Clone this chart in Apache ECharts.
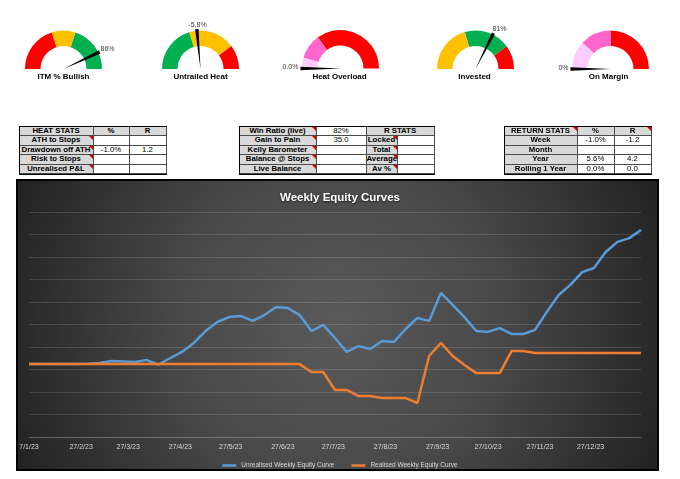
<!DOCTYPE html>
<html>
<head>
<meta charset="utf-8">
<script src="https://cdn.jsdelivr.net/npm/echarts@6/dist/echarts.min.js"></script>
<style>
  html, body { margin: 0; padding: 0; background: #fff; }
  #wrap { position: relative; width: 680px; height: 479px; overflow: hidden; }
  #chart { position: absolute; left: 0; top: 0; width: 680px; height: 479px; }
  .tbl { position: absolute; box-sizing: content-box; border: 1.5px solid #000; background: #fff; }
  .cell { position: absolute; box-sizing: border-box; border-right: 1px solid #4a4a4a; border-bottom: 1px solid #4a4a4a;
          font-family: "Liberation Sans", Arial, sans-serif; font-size: 7.8px; color: #000; text-align: center;
          white-space: nowrap; overflow: visible; }
  .lab { background: #d9d9d9; font-weight: bold; }
  .tri { position: absolute; right: 0; top: 0; width: 0; height: 0; border-top: 4px solid #e00000; border-left: 4px solid transparent; }
</style>
</head>
<body>
<div id="wrap">
  <div id="chart"></div>
</div>
<script>
// ---------- Gauges ----------
const gaugeNames  = ['ITM % Bullish', 'Untrailed Heat', 'Heat Overload', 'Invested', 'On Margin'];
const gaugeValues = [86, -5.8, 0.0, 81, 0];
const gaugeDecimals = [0, 1, 1, 0, 0];
const gaugeMin = [0, -100, 0, 0, 0];
const gaugeMax = [100, 100, 100, 125, 100];

// ---------- Tables ----------
const heatHeader = ['HEAT STATS', '%', 'R'];
const heatRows = [
  ['ATH to Stops', '', ''],
  ['Drawdown off ATH', '-1.0%', '1.2'],
  ['Risk to Stops', '', ''],
  ['Unrealised P&L', '', '']
];
const winHeader = ['Win Ratio (live)', '82%', 'R STATS'];
const rStatsRows = [
  ['Gain to Pain', '35.0', 'Locked', ''],
  ['Kelly Barometer', '', 'Total', ''],
  ['Balance @ Stops', '', 'Average', ''],
  ['Live Balance', '', 'Av %', '']
];
const returnHeader = ['RETURN STATS', '%', 'R'];
const returnRows = [
  ['Week', '-1.0%', '-1.2'],
  ['Month', '', ''],
  ['Year', '5.6%', '4.2'],
  ['Rolling 1 Year', '0.0%', '0.0']
];

// ---------- Equity curves (weekly) ----------
const startDate = '2023-01-27';
const unrealised = [
  3.24, 3.24, 3.24, 3.24, 3.24, 3.26, 3.29, 3.38, 3.36, 3.33,
  3.42, 3.22, 3.51, 3.78, 4.18, 4.71, 5.11, 5.33, 5.38, 5.16,
  5.42, 5.78, 5.73, 5.42, 4.71, 4.98, 4.40, 3.78, 4.04, 3.91,
  4.27, 4.22, 4.80, 5.29, 5.16, 6.40, 5.87, 5.33, 4.71, 4.67,
  4.84, 4.58, 4.58, 4.76, 5.56, 6.31, 6.76, 7.33, 7.51, 8.22,
  8.67, 8.84, 9.20
];
const realised = [
  3.24, 3.24, 3.24, 3.24, 3.24, 3.24, 3.24, 3.24, 3.24, 3.24,
  3.24, 3.24, 3.24, 3.24, 3.24, 3.24, 3.24, 3.24, 3.24, 3.24,
  3.24, 3.24, 3.24, 3.24, 2.89, 2.89, 2.09, 2.09, 1.82, 1.82,
  1.73, 1.73, 1.73, 1.51, 3.60, 4.18, 3.60, 3.20, 2.84, 2.84,
  2.84, 3.82, 3.82, 3.73, 3.73, 3.73, 3.73, 3.73, 3.73, 3.73,
  3.73, 3.73, 3.73
];
const tickDates = ['2023-01-27', '2023-02-27', '2023-03-27', '2023-04-27', '2023-05-27', '2023-06-27',
                   '2023-07-27', '2023-08-27', '2023-09-27', '2023-10-27', '2023-11-27', '2023-12-27'];
const tickLabels = ['7/1/23', '27/2/23', '27/3/23', '27/4/23', '27/5/23', '27/6/23',
                    '27/7/23', '27/8/23', '27/9/23', '27/10/23', '27/11/23', '27/12/23'];
const seriesNames = ['Unrealised Weekly Equity Curve', 'Realised Weekly Equity Curve'];

// ---------- build tables ----------
function buildTable(left, top, colW, rowH, rows, opts) {
  const wrap = document.getElementById('wrap');
  const totalW = colW.reduce((a, b) => a + b, 0);
  const t = document.createElement('div');
  t.className = 'tbl';
  t.style.left = (left - 1.5) + 'px'; t.style.top = (top - 1.5) + 'px';
  t.style.width = (totalW - 1) + 'px'; t.style.height = (rowH * rows.length - 1) + 'px';
  wrap.appendChild(t);
  rows.forEach((row, r) => {
    let x = 0;
    row.forEach((cell, c) => {
      if (cell === null) { x += colW[c]; return; }
      let span = 1;
      while (c + span < row.length && row[c + span] === null) span++;
      let w = 0; for (let k = 0; k < span; k++) w += colW[c + k];
      const d = document.createElement('div');
      d.className = 'cell' + (opts.isLabel(r, c) ? ' lab' : '');
      d.style.left = x + 'px';
      d.style.top = (r * rowH) + 'px';
      d.style.width = w + 'px';
      d.style.height = rowH + 'px';
      d.style.lineHeight = (rowH - 1) + 'px';
      d.textContent = cell;
      if (opts.tri(r, c)) { const tr = document.createElement('div'); tr.className = 'tri'; d.appendChild(tr); }
      t.appendChild(d);
      x += w;
    });
  });
}
const rowH = 9.6;
buildTable(20, 127, [74, 36, 37], rowH, [heatHeader].concat(heatRows), {
  isLabel: (r, c) => r === 0 || c === 0,
  tri: (r, c) => r > 0 && c === 0
});
buildTable(240, 127, [77, 50, 31, 37], rowH, [winHeader.concat([null])].concat(rStatsRows), {
  isLabel: (r, c) => c === 0 || c === 2,
  tri: (r, c) => c === 0 || (c === 2 && r > 0)
});
buildTable(505, 127, [73, 37, 37], rowH, [returnHeader].concat(returnRows), {
  isLabel: (r, c) => r === 0 || c === 0,
  tri: (r, c) => r === 0 && (c === 0 || c === 2)
});

// ---------- chart ----------
const chart = echarts.init(document.getElementById('chart'));
const day = 86400000;
const t0 = Date.parse(startDate + 'T00:00:00Z');
const tickOffsets = tickDates.map(d => Math.round((Date.parse(d + 'T00:00:00Z') - t0) / day));
const labelByOffset = {};
tickOffsets.forEach((o, i) => { labelByOffset[o] = tickLabels[i]; });
const lastOffset = (unrealised.length - 1) * 7;

const RED = '#FF0000', YEL = '#FFC000', GRN = '#00B050', PNK = '#FF66CC', LPK = '#FFCCFF';
const gaugeColors = [
  [[0.4, RED], [0.6, YEL], [1, GRN]],
  [[0.405, GRN], [0.795, YEL], [1, RED]],
  [[0.09, LPK], [0.3, PNK], [1, RED]],
  [[0.41, YEL], [0.8, GRN], [1, RED]],
  [[0.24, LPK], [0.5, PNK], [1, RED]]
];
const gaugeCenters = [[63.5, 69], [200.5, 69], [340.5, 68.5], [475.5, 69], [610.5, 69]];
const detailOffsets = [[44, -20], [-3, -44], [-50, -1], [24, -40], [-47, -1]];
const titleOffsets = [[0, 8], [0, 8], [-1, 8.5], [-1, 8], [-2, 8]];

const gaugeSeries = gaugeNames.map((nm, i) => ({
  type: 'gauge',
  center: gaugeCenters[i],
  radius: 38.5,
  startAngle: 180, endAngle: 0,
  min: gaugeMin[i], max: gaugeMax[i],
  axisLine: { lineStyle: { width: 15.5, color: gaugeColors[i] } },
  axisTick: { show: false }, splitLine: { show: false }, axisLabel: { show: false },
  progress: { show: false },
  anchor: { show: false },
  pointer: {
    icon: 'path://M0,0 L10,0 L5,100 Z',
    length: '104%', width: 3.5, offsetCenter: [0, 0],
    itemStyle: { color: '#000' }
  },
  title: {
    offsetCenter: titleOffsets[i], fontSize: 8, fontWeight: 'bold', color: '#000',
    fontFamily: 'Liberation Sans'
  },
  detail: {
    offsetCenter: detailOffsets[i], fontSize: 7, color: '#404040', fontWeight: 'normal',
    fontFamily: 'Liberation Sans',
    formatter: v => v.toFixed(gaugeDecimals[i]) + '%'
  },
  animation: false,
  data: [{ value: gaugeValues[i], name: nm }]
}));

const option = {
  animation: false,
  graphic: [{
    type: 'rect', z: -100,
    shape: { x: 17, y: 180, width: 641, height: 290 },
    style: {
      fill: new echarts.graphic.RadialGradient(0.5, 0.5, 1.25, [
        { offset: 0, color: '#5a5a5a' },
        { offset: 0.45, color: '#484848' },
        { offset: 0.9, color: '#262626' },
        { offset: 1, color: '#1e1e1e' }
      ]),
      stroke: '#000', lineWidth: 2
    }
  }],
  title: {
    text: 'Weekly Equity Curves', left: 'center', top: 187,
    textStyle: { color: '#ffffff', fontSize: 11.5, fontWeight: 'bold', fontFamily: 'Liberation Sans',
                 textShadowColor: 'rgba(0,0,0,0.6)', textShadowBlur: 2, textShadowOffsetY: 1 }
  },
  legend: {
    data: seriesNames, left: 'center', top: 457,
    icon: 'rect', itemWidth: 14, itemHeight: 2.5, itemGap: 17,
    textStyle: { color: '#d9d9d9', fontSize: 6.5, fontFamily: 'Liberation Sans' }
  },
  grid: { left: 29, right: 680 - 641, top: 212, bottom: 479 - 437, containLabel: false },
  xAxis: {
    type: 'value', min: 0, max: lastOffset,
    splitLine: { show: false },
    axisTick: { show: false },
    axisLine: { show: true, lineStyle: { color: 'rgba(255,255,255,0.16)' } },
    axisLabel: {
      customValues: tickOffsets,
      formatter: v => labelByOffset[Math.round(v)] || '',
      color: '#d9d9d9', fontSize: 7, fontFamily: 'Liberation Sans', margin: 7
    }
  },
  yAxis: {
    type: 'value', min: 0, max: 10, interval: 1,
    axisLabel: { show: false }, axisTick: { show: false }, axisLine: { show: false },
    splitLine: { lineStyle: { color: 'rgba(255,255,255,0.13)', width: 1 } }
  },
  series: gaugeSeries.concat([
    {
      name: seriesNames[0], type: 'line', showSymbol: false, symbol: 'none',
      data: unrealised.map((v, i) => [i * 7, v]),
      lineStyle: { color: '#5B9BD5', width: 2.5 }, itemStyle: { color: '#5B9BD5' }, z: 3
    },
    {
      name: seriesNames[1], type: 'line', showSymbol: false, symbol: 'none',
      data: realised.map((v, i) => [i * 7, v]),
      lineStyle: { color: '#ED7D31', width: 2.5 }, itemStyle: { color: '#ED7D31' }, z: 4
    }
  ])
};
chart.setOption(option);
</script>
</body>
</html>
